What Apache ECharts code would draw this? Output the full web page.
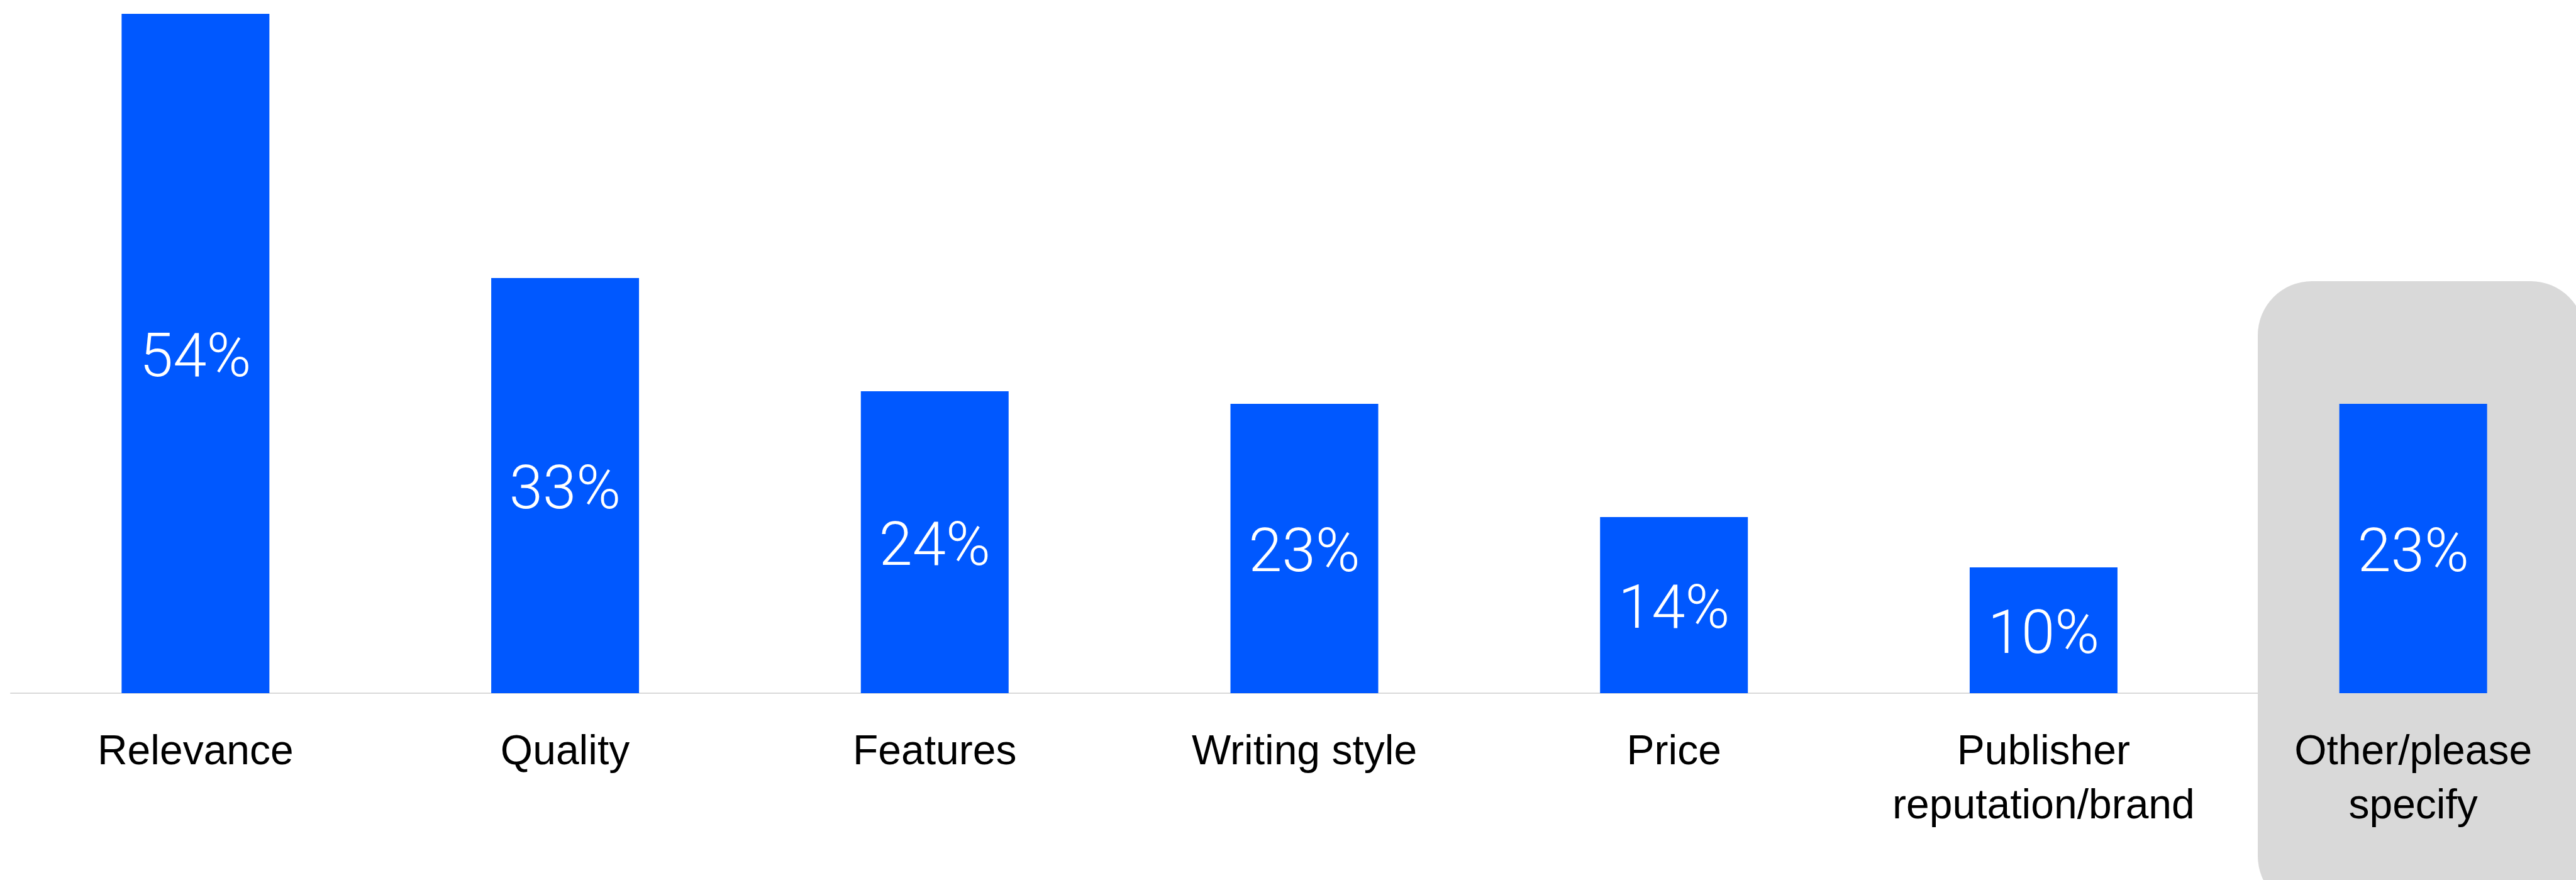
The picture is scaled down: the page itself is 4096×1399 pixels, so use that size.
<!DOCTYPE html>
<html>
<head>
<meta charset="utf-8">
<style>
  html, body { margin: 0; padding: 0; background: #ffffff; }
  #chart { width: 4096px; height: 1399px; }
</style>
<script src="https://cdn.jsdelivr.net/npm/echarts@6/dist/echarts.min.js"></script>
</head>
<body>
<div id="chart"></div>
<script>
// Survey answers and their shares (percent)
const categories = [
  'Relevance',
  'Quality',
  'Features',
  'Writing style',
  'Price',
  'Publisher\nreputation/brand',
  'Other/please\nspecify'
];
const shares = [54, 33, 24, 23, 14, 10, 23];

const BAR_BLUE = '#0058ff';
const SOFT_GREY = '#d9d9d9';

const chart = echarts.init(document.getElementById('chart'), null, { renderer: 'canvas' });

const option = {
  backgroundColor: '#ffffff',
  animation: false,
  // plot area runs a little past the right edge so the last slot is centred under the panel
  grid: {
    left: 17, right: -35, top: 22, bottom: 297,
    containLabel: false,
    outerBoundsMode: 'none'
  },
  xAxis: [
    {
      // baseline only
      type: 'category',
      data: categories,
      position: 'bottom',
      z: 0,
      axisLine: { show: true, lineStyle: { color: SOFT_GREY, width: 2 } },
      axisTick: { show: false },
      axisLabel: { show: false },
      splitLine: { show: false }
    },
    {
      // category names, drawn above the highlight panel
      type: 'category',
      data: categories,
      position: 'bottom',
      offset: 0,
      z: 5,
      axisLine: { show: false },
      axisTick: { show: false },
      splitLine: { show: false },
      axisLabel: {
        show: true,
        interval: 0,
        margin: 52,
        color: '#000000',
        fontFamily: 'Liberation Sans, Arial, sans-serif',
        fontSize: 66,
        lineHeight: 86,
        align: 'center'
      }
    }
  ],
  yAxis: {
    type: 'value',
    min: 0,
    max: 54,
    show: false,
    splitLine: { show: false }
  },
  graphic: [
    {
      // highlight panel behind the last category
      type: 'rect',
      z: 1,
      silent: true,
      shape: { x: 3590, y: 447, width: 520, height: 1000, r: 86 },
      style: { fill: SOFT_GREY }
    }
  ],
  series: [
    {
      type: 'bar',
      xAxisIndex: 0,
      data: shares,
      barWidth: 235,
      z: 3,
      itemStyle: { color: BAR_BLUE },
      label: {
        show: true,
        position: 'inside',
        offset: [0, 12],
        color: '#ffffff',
        fontFamily: 'Roboto, Liberation Sans, sans-serif',
        fontWeight: 300,
        fontSize: 96,
        formatter: p => p.value + '%'
      }
    }
  ]
};

chart.setOption(option);
</script>
</body>
</html>
